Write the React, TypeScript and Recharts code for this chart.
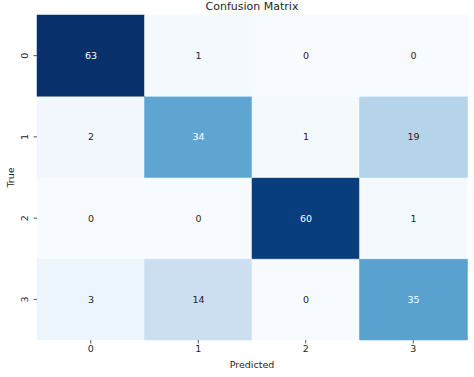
import { BarChart, Bar, XAxis, YAxis, Cell, Label } from "recharts";

const predictedLabels = ["0", "1", "2", "3"];
const trueLabels = ["0", "1", "2", "3"];

// rows = true class, columns = predicted class
const row0 = [63, 1, 0, 0];
const row1 = [2, 34, 1, 19];
const row2 = [0, 0, 60, 1];
const row3 = [3, 14, 0, 35];
const matrix = [row0, row1, row2, row3];

const FONT = "DejaVu Sans, sans-serif";
const VMAX = 63;

// matplotlib "Blues"
const BLUES = [
  [247, 251, 255],
  [222, 235, 247],
  [198, 219, 239],
  [158, 202, 225],
  [107, 174, 214],
  [66, 146, 198],
  [33, 113, 181],
  [8, 81, 156],
  [8, 48, 107],
];

function blues(v: number) {
  const t = Math.max(0, Math.min(1, v / VMAX)) * (BLUES.length - 1);
  const i = Math.min(Math.floor(t), BLUES.length - 2);
  const f = t - i;
  const c = BLUES[i].map((a, k) => Math.round(a + (BLUES[i + 1][k] - a) * f));
  return `rgb(${c[0]},${c[1]},${c[2]})`;
}

// one stacked segment per true row, every segment one unit tall
const data = predictedLabels.map((p) => {
  const d: Record<string, string | number> = { pred: p };
  trueLabels.forEach((_, i) => {
    d[`r${i}`] = 1;
  });
  return d;
});

// bottom of the stack first
const stackOrder = [3, 2, 1, 0];

const YTick = (props: any) => {
  const { x, y, payload } = props;
  const label = trueLabels[Math.round(3.5 - payload.value)];
  return (
    <text
      x={x}
      y={y}
      transform={`rotate(-90, ${x}, ${y})`}
      textAnchor="middle"
      dominantBaseline="central"
      fontSize={9.5}
      fontFamily={FONT}
      fill="#262626"
    >
      {label}
    </text>
  );
};

export default function App() {
  return (
    <div style={{ position: "absolute", left: 0, top: 0, background: "#fff" }}>
      <BarChart
        width={474}
        height={377}
        data={data}
        margin={{ top: 15, right: 7, left: 0, bottom: 0 }}
        barCategoryGap={0}
        barGap={0}
      >
        <text
          x={252}
          y={9.5}
          textAnchor="middle"
          fontSize={11}
          fontFamily={FONT}
          fill="#262626"
        >
          Confusion Matrix
        </text>
        <XAxis
          dataKey="pred"
          height={37}
          axisLine={false}
          tickSize={3.5}
          tickLine={{ stroke: "#555" }}
          tick={{ fontSize: 9.5, fontFamily: FONT, fill: "#262626" }}
          tickMargin={2}
        >
          <Label
            value="Predicted"
            position="insideBottom"
            offset={9}
            style={{ fontSize: 9.5, fontFamily: FONT, fill: "#262626" }}
          />
        </XAxis>
        <YAxis
          type="number"
          domain={[0, 4]}
          ticks={[0.5, 1.5, 2.5, 3.5]}
          width={37}
          axisLine={false}
          tickSize={3.5}
          tickLine={{ stroke: "#555" }}
          tickMargin={9}
          tick={<YTick />}
        >
          <Label
            value="True"
            angle={-90}
            position="insideLeft"
            offset={11}
            style={{ fontSize: 9.5, fontFamily: FONT, fill: "#262626", textAnchor: "middle" }}
          />
        </YAxis>
        {stackOrder.map((i) => (
          <Bar
            key={i}
            dataKey={`r${i}`}
            stackId="cm"
            isAnimationActive={false}
            label={(props: any) => {
              const { x, y, width, height, index } = props;
              const v = matrix[i][index];
              return (
                <text
                  x={x + width / 2}
                  y={y + height / 2}
                  textAnchor="middle"
                  dominantBaseline="central"
                  fontSize={9.5}
                  fontFamily={FONT}
                  fill={v / VMAX > 0.5 ? "#ffffff" : "#262626"}
                >
                  {v}
                </text>
              );
            }}
          >
            {matrix[i].map((v, j) => (
              <Cell key={j} fill={blues(v)} stroke={blues(v)} strokeWidth={0.5} />
            ))}
          </Bar>
        ))}
      </BarChart>
    </div>
  );
}
